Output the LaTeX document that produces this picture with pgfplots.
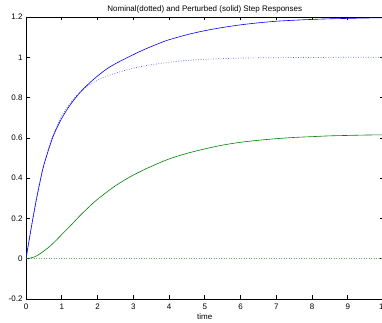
\documentclass[border=0pt]{standalone}
\usepackage{fontspec}
\setmainfont{Liberation Sans}
\usepackage{pgfplots}
\pgfplotsset{compat=1.18}
\definecolor{mgreen}{rgb}{0,0.5,0}
\begin{document}
\begin{tikzpicture}
\begin{axis}[
  scale only axis, width=357.5pt, height=282pt,
  xmin=0, xmax=10, ymin=-0.2, ymax=1.2,
  xtick={0,1,2,3,4,5,6,7,8,9,10},
  ytick={-0.2,0,0.2,0.4,0.6,0.8,1,1.2},
  tick align=inside, major tick length=3.5pt,
  tick style={black, line width=0.6pt},
  axis line style={black, line width=0.8pt},
  font=\fontsize{8}{9.6}\selectfont,
  /pgf/number format/assume math mode=true,
  xticklabel style={anchor=base, yshift=-11pt},
  every axis title shift=0pt,
  title={Nominal(dotted) and Perturbed (solid) Step Responses},
  title style={at={(axis description cs:0.5,1)}, anchor=base, yshift=5.5pt, inner sep=0pt},
  xlabel={time},
  xlabel style={at={(axis description cs:0.5,0)}, anchor=base, yshift=-20pt, inner sep=0pt},
]
% nominal (dotted)
\addplot[blue!60, line width=0.7pt, dash pattern=on 0.8pt off 1.7pt, smooth] coordinates {
(0,0) (0.1,0.107) (0.2,0.21) (0.3,0.305) (0.4,0.392) (0.5,0.47) (0.75,0.612) (1.0,0.708) (1.25,0.775) (1.5,0.826)
(1.75,0.861) (2.0,0.886) (2.25,0.905) (2.5,0.921) (2.75,0.934) (3.0,0.946) (3.5,0.963)
(4.0,0.975) (4.5,0.984) (5,0.99) (6,0.996) (7,0.998) (8,0.999) (9,1.0) (10,1.0)};
\addplot[mgreen!60, line width=0.7pt, dash pattern=on 0.8pt off 1.7pt] coordinates {
(0,0) (10,0)};
% perturbed (solid)
\addplot[blue, line width=0.6pt, smooth] coordinates {
(0,0) (0.1,0.105) (0.2,0.207) (0.3,0.302) (0.4,0.388) (0.5,0.465) (0.75,0.603) (1.0,0.697) (1.25,0.767) (1.5,0.823)
(1.75,0.868) (2.0,0.907) (2.25,0.941) (2.5,0.968) (2.75,0.991) (3.0,1.013) (3.25,1.034) (3.5,1.053)
(3.75,1.071) (4.0,1.087) (4.5,1.112) (5.0,1.132) (5.5,1.148) (6.0,1.161) (6.5,1.171) (7,1.179)
(7.5,1.184) (8,1.188) (8.5,1.191) (9,1.193) (9.5,1.195) (10,1.196)};
\addplot[mgreen, line width=0.6pt, smooth] coordinates {
(0,0) (0.25,0.01) (0.5,0.038) (0.75,0.075) (1.0,0.12) (1.25,0.165) (1.5,0.212)
(1.75,0.255) (2.0,0.295) (2.5,0.362) (3.0,0.415) (3.5,0.458) (4,0.495) (4.5,0.523)
(5,0.545) (5.5,0.564) (6,0.578) (6.5,0.588) (7,0.596) (7.5,0.602) (8,0.606)
(8.5,0.61) (9,0.612) (9.5,0.614) (10,0.615)};
\end{axis}
\pgfresetboundingbox
\path[use as bounding box] (-26pt,-24pt) rectangle (356pt,299pt);
\end{tikzpicture}
\end{document}
